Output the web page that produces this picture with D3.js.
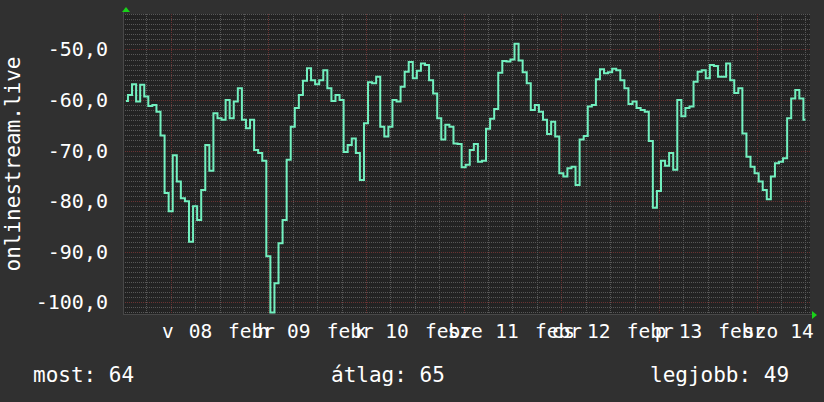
<!DOCTYPE html>
<html>
<head>
<meta charset="utf-8">
<script src="https://cdn.jsdelivr.net/npm/d3@7"></script>
<style>
  html, body { margin: 0; padding: 0; background: #303030; }
  svg { display: block; }
  text { font-family: "DejaVu Sans Mono", monospace; fill: #ffffff; }
</style>
</head>
<body>
<svg id="chart" width="824" height="402"></svg>
<script>
// Hourly samples of the stream metric, starting 2015-02-07 13:00
const seriesStart = new Date(2015, 1, 7, 13, 0);
const seriesStepHours = 1;
const seriesValues = [
  -60.2, -59.0, -56.9, -60.3, -57.0, -59.3, -61.2, -61.0, -62.3, -67.0,
  -78.4, -82.0, -70.9, -76.1, -79.4, -80.0, -88.0, -81.0, -83.7, -77.8,
  -68.9, -74.0, -62.6, -63.6, -63.9, -60.0, -63.6, -60.3, -57.7, -63.9,
  -65.6, -63.9, -69.9, -70.5, -72.0, -90.9, -102.0, -96.2, -88.3, -83.7,
  -71.8, -65.3, -61.6, -59.0, -56.2, -53.7, -56.1, -56.9, -56.1, -54.1,
  -57.7, -60.2, -59.0, -60.0, -70.3, -68.9, -67.6, -70.5, -75.8, -64.6,
  -56.5, -56.7, -55.4, -65.3, -67.2, -65.3, -60.0, -60.3, -57.4, -54.4,
  -52.5, -55.7, -54.2, -52.8, -53.1, -56.1, -58.7, -63.6, -67.8, -64.9,
  -65.3, -68.6, -68.7, -73.3, -72.8, -69.9, -68.7, -72.2, -72.0, -65.7,
  -63.7, -61.8, -54.6, -52.3, -52.4, -52.0, -48.9, -52.2, -54.5, -56.7,
  -62.0, -61.0, -62.3, -63.9, -66.7, -64.3, -67.2, -74.5, -75.1, -73.5,
  -73.2, -76.8, -67.8, -67.1, -61.3, -61.0, -55.9, -53.9, -54.7, -54.5,
  -53.8, -54.1, -56.1, -57.7, -60.8, -60.3, -61.6, -62.0, -62.3, -68.1,
  -81.3, -78.0, -72.0, -73.0, -70.5, -73.8, -60.0, -63.2, -61.6, -61.3,
  -56.4, -54.4, -54.1, -55.7, -53.1, -53.3, -55.4, -55.4, -52.8, -56.1,
  -58.6, -57.7, -66.6, -71.2, -73.2, -74.5, -76.1, -77.8, -79.6, -75.1,
  -72.5, -72.2, -71.5, -63.6, -59.7, -58.0, -59.7, -63.9
];

// Axis and legend texts
const yTickValues = [-100, -90, -80, -70, -60, -50];
const weekdayLabels = ["v", "h", "k", "sze", "cs", "p", "szo"];
const dayNumbers = ["08", "09", "10", "11", "12", "13", "14"];
const monthLabels = ["", "febr", "febr", "febr", "febr", "febr", "febr"];
const yTitle = "onlinestream.live";
const legendNames = ["most", "átlag", "legjobb"];
const legendValues = [64, 65, 49];

// Layout
const W = 824, H = 402;
const plot = { left: 123, right: 810, top: 14, bottom: 314 };
const colors = {
  outer: "#303030",
  plotBg: "#232323",
  minorGrid: "#575757",
  majorGrid: "#6a3333",
  line: "#72f0bf",
  arrow: "#19d319"
};

const svg = d3.select("#chart");
svg.append("rect").attr("width", W).attr("height", H).attr("fill", colors.outer);

const day0 = new Date(2015, 1, 8, 0, 0);
const hour = 3600 * 1000;
const x = d3.scaleTime()
  .domain([new Date(+day0 - 11.72 * hour), new Date(+day0 + 157.12 * hour)])
  .range([plot.left, plot.right]);
const y = d3.scaleLinear()
  .domain([-102.3, -43.0])
  .range([plot.bottom, plot.top]);

const data = seriesValues.map((v, i) => ({
  t: new Date(+seriesStart + i * seriesStepHours * hour),
  v
}));

// Plot background
svg.append("rect")
  .attr("x", plot.left).attr("y", plot.top)
  .attr("width", plot.right - plot.left).attr("height", plot.bottom - plot.top)
  .attr("fill", colors.plotBg);

const grid = svg.append("g").attr("shape-rendering", "crispEdges");

// Horizontal grid: every unit minor, every ten major
const minorY = d3.range(-102, -42, 1).filter(v => v % 10 !== 0);
grid.selectAll("line.hmin").data(minorY).join("line")
  .attr("x1", plot.left).attr("x2", plot.right)
  .attr("y1", d => Math.round(y(d)) + 0.5).attr("y2", d => Math.round(y(d)) + 0.5)
  .attr("stroke", colors.minorGrid).attr("stroke-dasharray", "1,1");
grid.selectAll("line.hmaj").data(yTickValues).join("line")
  .attr("x1", plot.left).attr("x2", plot.right)
  .attr("y1", d => Math.round(y(d)) + 0.5).attr("y2", d => Math.round(y(d)) + 0.5)
  .attr("stroke", colors.majorGrid).attr("stroke-dasharray", "1,1");

// Vertical grid: every six hours minor, midnight major
const sixHours = d3.timeHour.every(6).range(x.domain()[0], x.domain()[1]);
const midnights = d3.timeDay.range(x.domain()[0], x.domain()[1]);
grid.selectAll("line.vmin").data(sixHours.filter(d => d.getHours() !== 0)).join("line")
  .attr("x1", d => Math.round(x(d)) + 0.5).attr("x2", d => Math.round(x(d)) + 0.5)
  .attr("y1", plot.top).attr("y2", plot.bottom)
  .attr("stroke", colors.minorGrid).attr("stroke-dasharray", "1,1");
grid.selectAll("line.vmaj").data(midnights).join("line")
  .attr("x1", d => Math.round(x(d)) + 0.5).attr("x2", d => Math.round(x(d)) + 0.5)
  .attr("y1", plot.top).attr("y2", plot.bottom)
  .attr("stroke", colors.majorGrid).attr("stroke-dasharray", "1,1");

// Axis lines
grid.append("line")
  .attr("x1", plot.left).attr("x2", plot.right + 2)
  .attr("y1", plot.bottom + 0.5).attr("y2", plot.bottom + 0.5)
  .attr("stroke", "#484848");
grid.append("line")
  .attr("x1", plot.left + 0.5).attr("x2", plot.left + 0.5)
  .attr("y1", plot.top - 2).attr("y2", plot.bottom)
  .attr("stroke", "#484848");

// Arrow heads
svg.append("path")
  .attr("d", `M${plot.left - 1},${plot.top - 2} L${plot.left + 7},${plot.top - 2} L${plot.left + 3},${plot.top - 7} Z`)
  .attr("fill", colors.arrow);
svg.append("path")
  .attr("d", `M${plot.right + 2},${plot.bottom - 3} L${plot.right + 2},${plot.bottom + 5} L${plot.right + 7},${plot.bottom + 1} Z`)
  .attr("fill", colors.arrow);

// Series line
const line = d3.line()
  .x(d => x(d.t))
  .y(d => y(d.v))
  .curve(d3.curveStep);
svg.append("path")
  .datum(data)
  .attr("d", line)
  .attr("fill", "none")
  .attr("stroke", colors.line)
  .attr("stroke-width", 2)
  .attr("stroke-linejoin", "miter");

// Y tick labels
const fmt = d3.formatLocale({ decimal: ",", thousands: " ", grouping: [3], currency: ["", ""], minus: "-" }).format(".1f");
svg.selectAll("text.ytick").data(yTickValues).join("text")
  .attr("x", 108)
  .attr("y", d => y(d) + 7)
  .attr("text-anchor", "end")
  .style("font-size", "20px")
  .text(d => fmt(d));

// Y title
svg.append("text")
  .attr("transform", "translate(20,164) rotate(-90)")
  .attr("text-anchor", "middle")
  .style("font-size", "21px")
  .text(yTitle);

// Day labels: month name, weekday and day number are drawn as separate runs
// that share the same baseline and run into each other
const days = midnights.slice(0, dayNumbers.length);
const monthShift = [0, -40.3, -39.3, -38.6, -26.3, -32.3, -38.3];
const weekdayShift = [-8.7, -10.8, -11.0, -16.1, -9.8, -4.1, -13.5];
const dayEndShift = [41.5, 42.2, 42.8, 55.2, 49.2, 43.2, 57.2];
const labelFont = "19.5px";
const labelBase = 338.3;
svg.selectAll("text.month").data(days).join("text")
  .attr("class", "month")
  .attr("x", (d, i) => x(d) + monthShift[i])
  .attr("y", labelBase)
  .style("font-size", labelFont)
  .text((d, i) => monthLabels[i]);
svg.selectAll("text.weekday").data(days).join("text")
  .attr("class", "weekday")
  .attr("x", (d, i) => x(d) + weekdayShift[i])
  .attr("y", labelBase)
  .style("font-size", labelFont)
  .text((d, i) => weekdayLabels[i]);
svg.selectAll("text.daynum").data(days).join("text")
  .attr("class", "daynum")
  .attr("x", (d, i) => x(d) + dayEndShift[i])
  .attr("y", labelBase)
  .attr("text-anchor", "end")
  .style("font-size", labelFont)
  .text((d, i) => dayNumbers[i]);

// Legend
const legendX = [33, 331, 650];
legendNames.forEach((name, i) => {
  svg.append("text")
    .attr("x", legendX[i])
    .attr("y", 382)
    .style("font-size", "21px")
    .text(`${name}: ${legendValues[i]}`);
});
</script>
</body>
</html>
